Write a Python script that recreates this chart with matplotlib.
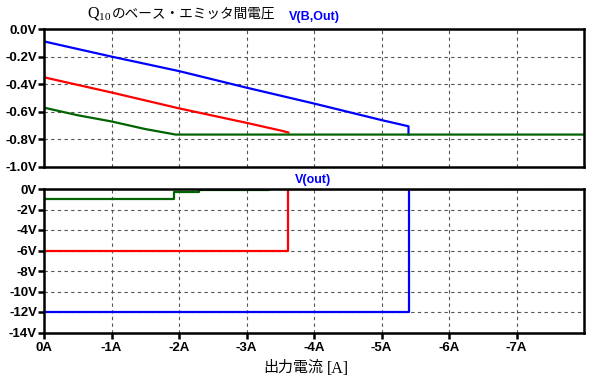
import numpy as np
import matplotlib.pyplot as plt

plt.rcParams['font.family'] = ['Liberation Sans', 'Noto Sans CJK JP']
plt.rcParams['mathtext.fontset'] = 'custom'
plt.rcParams['mathtext.rm'] = 'Liberation Serif'
plt.rcParams['mathtext.it'] = 'Liberation Serif'

# top panel: V(B,Out) vs output current
blue_top_x = [0, -1, -2, -3, -4, -5, -5.4, -5.4]
blue_top_y = [-0.09, -0.20, -0.305, -0.425, -0.54, -0.66, -0.705, -0.765]
red_top_x = [0, -1, -2, -3, -3.5, -3.62]
red_top_y = [-0.35, -0.46, -0.575, -0.68, -0.735, -0.75]
green_top_x = [0, -0.5, -1, -1.5, -1.95, -8]
green_top_y = [-0.57, -0.625, -0.67, -0.725, -0.765, -0.765]

# bottom panel: V(out) vs output current (step traces)
blue_bot_x = [0, -5.4, -5.4, -8]
blue_bot_y = [-12, -12, 0, 0]
red_bot_x = [0, -3.62, -3.62, -8]
red_bot_y = [-6, -6, 0, 0]
green_bot_x = [0, -1.93, -2.3, -3.33, -8]
green_bot_y = [-1, -0.3, -0.12, 0, 0]

top_ticks = [0.0, -0.2, -0.4, -0.6, -0.8, -1.0]
bot_ticks = [0, -2, -4, -6, -8, -10, -12, -14]
x_ticks = [0, -1, -2, -3, -4, -5, -6, -7]

blue = '#0000ff'
red = '#ff0000'
green = '#006400'

fig = plt.figure(figsize=(5.94, 3.84), dpi=100)
ax1 = fig.add_axes([44/594, 1-167/384, 540/594, 138/384])
ax2 = fig.add_axes([44/594, 1-332.5/384, 540/594, 143.5/384])

lw = 1.6
ax1.plot(blue_top_x, blue_top_y, color=blue, lw=lw)
ax1.plot(red_top_x, red_top_y, color=red, lw=lw)
ax1.plot(green_top_x, green_top_y, color=green, lw=lw)

ax2.plot(blue_bot_x, blue_bot_y, color=blue, lw=lw)
ax2.plot(red_bot_x, red_bot_y, color=red, lw=lw)
ax2.step(green_bot_x, green_bot_y, where='post', color=green, lw=lw)

for ax in (ax1, ax2):
    ax.set_xlim(0, -8)
    ax.set_xticks(x_ticks)
    ax.grid(True, color='#555555', ls=(0, (3, 3)), lw=0.8)
    for s in ax.spines.values():
        s.set_linewidth(1.8)
    ax.tick_params(direction='out', length=4, width=1.8, labelsize=9.5,
                   pad=1, top=False, right=False)

ax1.set_ylim(-1.0, 0.0)
ax1.set_yticks(top_ticks)
ax1.set_yticklabels(['%.1fV' % v for v in top_ticks], fontweight='bold')
ax1.tick_params(axis='x', length=0, labelbottom=False)

ax2.set_ylim(-14, 0)
ax2.set_yticks(bot_ticks)
ax2.set_yticklabels(['%dV' % v for v in bot_ticks], fontweight='bold')
ax2.set_xticklabels(['%dA' % v if v != 0 else '0A' for v in x_ticks], fontweight='bold')
ax2.tick_params(axis='x', pad=3)

fig.text(87/594, 1-14/384, 'Q$_{10}$', fontsize=11.5, family='Liberation Serif',
         va='center', ha='left')
fig.text(112/594, 1-14/384, 'のベース・エミッタ間電圧', fontsize=9.8,
         family='Noto Sans CJK JP', va='center', ha='left')
fig.text(289/594, 1-17/384, 'V(B,Out)', color=blue, fontsize=9, fontweight='bold',
         va='center', ha='left')
fig.text(295/594, 1-180/384, 'V(out)', color=blue, fontsize=9, fontweight='bold',
         va='center', ha='left')
fig.text(263/594, 1-368/384, '出力電流', fontsize=10.8,
         family='Noto Sans CJK JP', va='center', ha='left')
fig.text(327/594, 1-369/384, '[A]', fontsize=11.5,
         family='Liberation Serif', va='center', ha='left')

fig.savefig('out.png', dpi=100)
